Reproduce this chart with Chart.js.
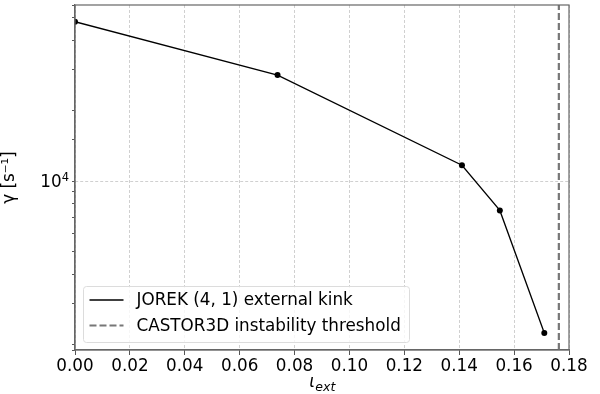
<!DOCTYPE html>
<html>
<head>
<meta charset="utf-8">
<script src="https://cdn.jsdelivr.net/npm/chart.js@4"></script>
<style>
  html, body { margin: 0; padding: 0; background: #fff; }
  #wrap { width: 600px; height: 394px; }
</style>
</head>
<body>
<div id="wrap"><canvas id="growthRateChart" width="600" height="394"></canvas></div>
<script>
// data
const iotaExt = [0.0, 0.0738, 0.141, 0.1548, 0.171];
const gammaValues = [48000, 28400, 11700, 7500, 2245];
const thresholdIota = 0.1763;
const xTicks = [0, 0.02, 0.04, 0.06, 0.08, 0.10, 0.12, 0.14, 0.16, 0.18];
const yMajor = [10000];
const yMin = 1900, yMax = 56600;

const FONT = 'DejaVu Sans';
const FS = 16.8;

// frame, 10^4 label, x label with subscript, and matplotlib-like legend
const plotExtras = {
  id: 'plotExtras',
  afterDraw(chart) {
    const ctx = chart.ctx;
    const area = chart.chartArea;
    const yScale = chart.scales.y;
    ctx.save();

    // full frame (top/right spines)
    ctx.strokeStyle = '#666';
    ctx.lineWidth = 1.2;
    ctx.strokeRect(area.left, area.top, area.right - area.left, area.bottom - area.top);

    // major y tick labels as 10^n with a real superscript
    ctx.fillStyle = '#000';
    yMajor.forEach(v => {
      const py = yScale.getPixelForValue(v);
      const exp = String(Math.round(Math.log10(v)));
      ctx.font = '11.5px ' + FONT;
      const ew = ctx.measureText(exp).width;
      const right = area.left - 6;
      ctx.textBaseline = 'alphabetic';
      ctx.textAlign = 'left';
      ctx.fillText(exp, right - ew, py - 0.5);
      ctx.textAlign = 'right';
      ctx.font = FS + 'px ' + FONT;
      ctx.fillText('10', right - ew, py + 6);
    });
    ctx.textAlign = 'left';

    // x axis label: iota_ext
    const cx = (area.left + area.right) / 2;
    ctx.textBaseline = 'alphabetic';
    ctx.font = 'italic ' + FS + 'px ' + FONT;
    const iw = ctx.measureText('ι').width;
    ctx.font = 'italic 12.5px ' + FONT;
    const sw = ctx.measureText('ext').width;
    const sx = cx - (iw + sw) / 2;
    ctx.font = 'italic ' + FS + 'px ' + FONT;
    ctx.fillText('ι', sx, 387);
    ctx.font = 'italic 12.5px ' + FONT;
    ctx.fillText('ext', sx + iw + 0.5, 391);

    // legend
    const x0 = area.left + 8.5, y0 = 286.5, w = 326, h = 56;
    ctx.fillStyle = 'rgba(255,255,255,0.8)';
    ctx.strokeStyle = '#dcdcdc';
    ctx.lineWidth = 1;
    ctx.beginPath();
    ctx.roundRect(x0, y0, w, h, 3);
    ctx.fill();
    ctx.stroke();
    ctx.font = FS + 'px ' + FONT;
    ctx.textBaseline = 'middle';
    const rows = [300, 325.5];
    chart.data.datasets.forEach((ds, i) => {
      ctx.strokeStyle = ds.borderColor;
      ctx.lineWidth = ds.borderWidth;
      ctx.setLineDash(ds.borderDash || []);
      ctx.beginPath();
      ctx.moveTo(x0 + 6, rows[i]);
      ctx.lineTo(x0 + 40, rows[i]);
      ctx.stroke();
      ctx.setLineDash([]);
      ctx.fillStyle = '#000';
      ctx.fillText(ds.label, x0 + 53, rows[i] + 1);
    });
    ctx.restore();
  }
};

const ctx = document.getElementById('growthRateChart').getContext('2d');
new Chart(ctx, {
  type: 'scatter',
  data: {
    datasets: [
      {
        label: 'JOREK (4, 1) external kink',
        data: iotaExt.map((x, i) => ({ x: x, y: gammaValues[i] })),
        showLine: true,
        borderColor: '#000',
        backgroundColor: '#000',
        borderWidth: 1.3,
        pointRadius: 3,
        pointBorderWidth: 0
      },
      {
        label: 'CASTOR3D instability threshold',
        data: [{ x: thresholdIota, y: yMin }, { x: thresholdIota, y: yMax }],
        showLine: true,
        borderColor: '#777',
        borderWidth: 2.2,
        borderDash: [7, 3],
        pointRadius: 0
      }
    ]
  },
  options: {
    responsive: false,
    animation: false,
    layout: { padding: { top: 5, right: 31, left: 0, bottom: 0 } },
    plugins: {
      legend: { display: false },
      tooltip: { enabled: false }
    },
    scales: {
      x: {
        type: 'linear',
        min: 0,
        max: 0.18,
        afterBuildTicks: (scale) => { scale.ticks = xTicks.map(v => ({ value: v })); },
        afterFit: (scale) => { scale.height = 44; },
        grid: {
          color: '#d0d0d0',
          tickColor: '#555',
          tickLength: 5
        },
        border: { color: '#666', width: 1.2, dash: [3, 2] },
        ticks: {
          color: '#000',
          font: { family: FONT, size: FS },
          padding: 2,
          maxRotation: 0,
          callback: (v) => v.toFixed(2)
        }
      },
      y: {
        type: 'logarithmic',
        min: yMin,
        max: yMax,
        afterFit: (scale) => {
          scale.width = 75;
          scale.paddingTop = 0;
          scale.paddingBottom = 0;
        },
        grid: {
          color: (c) => (c.tick && yMajor.includes(c.tick.value) ? '#d0d0d0' : 'rgba(0,0,0,0)'),
          tickColor: '#555',
          tickLength: (c) => (c.tick && yMajor.includes(c.tick.value) ? 5 : 3)
        },
        border: { color: '#666', width: 1.2, dash: [3, 2] },
        ticks: {
          color: '#000',
          font: { family: FONT, size: FS },
          padding: 2,
          autoSkip: false,
          callback: () => ''
        },
        title: {
          display: true,
          text: 'γ [s⁻¹]',
          color: '#000',
          font: { family: FONT, size: FS },
          padding: { top: 0, bottom: 4 }
        }
      }
    }
  },
  plugins: [plotExtras]
});
</script>
</body>
</html>
